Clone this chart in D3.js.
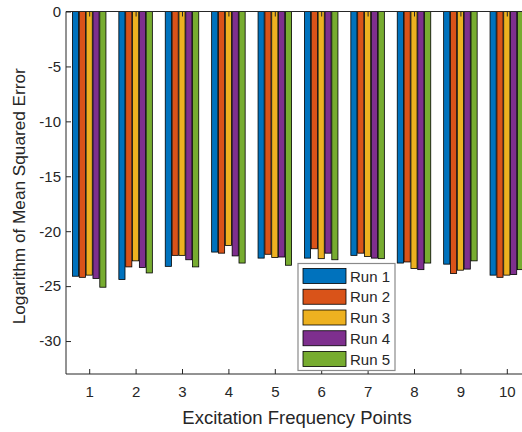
<!DOCTYPE html>
<html><head><meta charset="utf-8">
<script src="https://cdn.jsdelivr.net/npm/d3@7"></script>
<style>body{margin:0;background:#fff;} svg{display:block;} text{font-family:"Liberation Sans",Arial,Helvetica,sans-serif;fill:#262626;}</style>
</head><body>
<svg id="chart" width="522" height="432"></svg>
<script>
const categories = [1,2,3,4,5,6,7,8,9,10];
const runs = ["Run 1","Run 2","Run 3","Run 4","Run 5"];
const run1 = [-24.1,-24.4,-23.2,-21.9,-22.45,-22.45,-22.2,-22.9,-23.0,-24.0];
const run2 = [-24.2,-23.25,-22.2,-22.0,-22.1,-21.6,-22.0,-22.8,-23.85,-24.2];
const run3 = [-24.0,-22.7,-22.2,-21.3,-22.4,-22.5,-22.3,-23.4,-23.55,-24.0];
const run4 = [-24.3,-23.3,-22.6,-22.25,-22.35,-22.0,-22.45,-23.5,-23.45,-23.95];
const run5 = [-25.1,-23.8,-23.25,-22.9,-23.1,-22.6,-22.5,-22.9,-22.7,-23.5];
const yTicks = [0,-5,-10,-15,-20,-25,-30];
const colors = ["#0072BD","#D95319","#EDB120","#7E2F8E","#77AC30"];
const series = [run1,run2,run3,run4,run5];

const svg = d3.select("#chart");
const L = 66, R = 530, T = 11.5, B = 374;
const x = d3.scaleLinear().domain([0.5,10.5]).range([L,R]);
const y = d3.scaleLinear().domain([-33,0]).range([B,T]);
const step = x(2)-x(1);
const gw = step*0.722;
const xb = d3.scaleBand().domain(runs).range([-gw/2,gw/2]).paddingInner(0.1);

// bars
series.forEach((vals,si)=>{
  svg.append("g").selectAll("rect").data(vals).join("rect")
    .attr("x",(d,i)=>x(categories[i])+xb(runs[si]))
    .attr("y",y(0))
    .attr("width",xb.bandwidth())
    .attr("height",d=>y(d)-y(0))
    .attr("fill",colors[si])
    .attr("stroke","#000").attr("stroke-width",0.8);
});

const ac = "#262626";
const fmt = d => String(d);
// box
svg.append("line").attr("x1",L).attr("x2",R).attr("y1",T).attr("y2",T).attr("stroke",ac);
svg.append("line").attr("x1",L).attr("x2",R).attr("y1",B).attr("y2",B).attr("stroke",ac);
svg.append("line").attr("x1",L).attr("x2",L).attr("y1",T).attr("y2",B).attr("stroke",ac);

// x axis
const xAxis = d3.axisBottom(x).tickValues(categories).tickSize(-5).tickPadding(12.5).tickFormat(fmt);
const gx = svg.append("g").attr("transform",`translate(0,${B})`).call(xAxis);
gx.select(".domain").remove();
gx.selectAll("line").attr("stroke",ac);
gx.selectAll("text").attr("font-size",15).attr("fill",ac).style("font-family","'Liberation Sans',Arial,sans-serif");
const xAxisTop = d3.axisTop(x).tickValues(categories).tickSize(-5).tickFormat("");
const gxt = svg.append("g").attr("transform",`translate(0,${T})`).call(xAxisTop);
gxt.select(".domain").remove();
gxt.selectAll("line").attr("stroke",ac);

// y axis
const yAxis = d3.axisLeft(y).tickValues(yTicks).tickSize(-5).tickPadding(5).tickFormat(fmt);
const gy = svg.append("g").attr("transform",`translate(${L},0)`).call(yAxis);
gy.select(".domain").remove();
gy.selectAll("line").attr("stroke",ac);
gy.selectAll("text").attr("font-size",15).attr("fill",ac).style("font-family","'Liberation Sans',Arial,sans-serif");

// labels
svg.append("text").attr("x",(L+R)/2 - 1).attr("y",424).attr("text-anchor","middle").attr("font-size",18.5).text("Excitation Frequency Points");
svg.append("text").attr("transform",`translate(25,${(T+B)/2+3.5}) rotate(-90)`).attr("text-anchor","middle").attr("font-size",17.2).text("Logarithm of Mean Squared Error");

// legend
const lg = svg.append("g");
lg.append("rect").attr("x",298).attr("y",263.5).attr("width",97).attr("height",107).attr("fill","#fff").attr("stroke","#8a8a8a").attr("stroke-width",1.2);
runs.forEach((r,i)=>{
  const cy = 276 + i*20.75;
  lg.append("rect").attr("x",303).attr("y",cy-7.5).attr("width",43).attr("height",15).attr("fill",colors[i]).attr("stroke","#000").attr("stroke-width",0.8);
  lg.append("text").attr("x",350).attr("y",cy+5.5).attr("font-size",15).text(r);
});
</script>
</body></html>
